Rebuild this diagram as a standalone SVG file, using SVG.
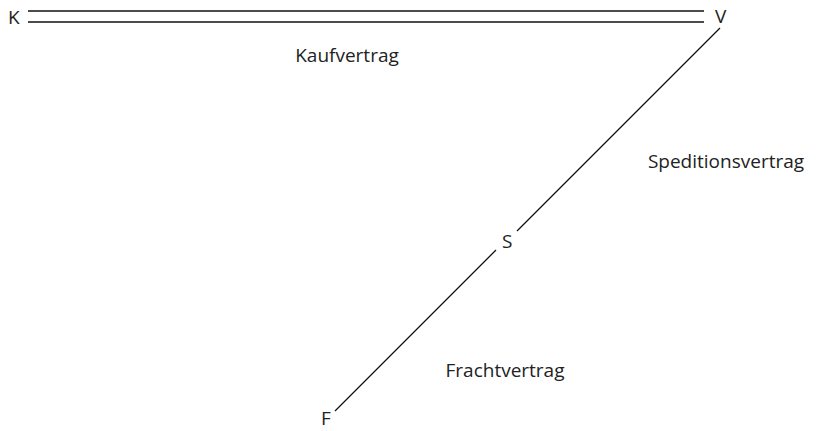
<svg xmlns="http://www.w3.org/2000/svg" width="817" height="431" viewBox="0 0 817 431">
<style>
text{font-family:"Open Sans","Noto Sans",sans-serif;font-size:19px;fill:#222}
.lbl{text-anchor:middle}
.ln{stroke:#111;stroke-width:1.3;fill:none}
</style>
<rect width="817" height="431" fill="#fff"/>
<g id="K"><text x="8" y="24">K</text></g>
<g id="V"><text x="715" y="23">V</text></g>
<g id="S"><text x="502" y="248">S</text></g>
<g id="F"><text x="321" y="425">F</text></g>
<g id="connectors">
<line class="ln" x1="28" y1="11" x2="704" y2="11"/>
<line class="ln" x1="28" y1="22" x2="704" y2="22"/>
<line class="ln" x1="720" y1="28" x2="517" y2="231"/>
<line class="ln" x1="496" y1="250" x2="335" y2="411"/>
</g>
<g id="labels">
<text class="lbl" x="347" y="62">Kaufvertrag</text>
<text class="lbl" x="726" y="168">Speditionsvertrag</text>
<text class="lbl" x="505" y="377">Frachtvertrag</text>
</g>
</svg>
